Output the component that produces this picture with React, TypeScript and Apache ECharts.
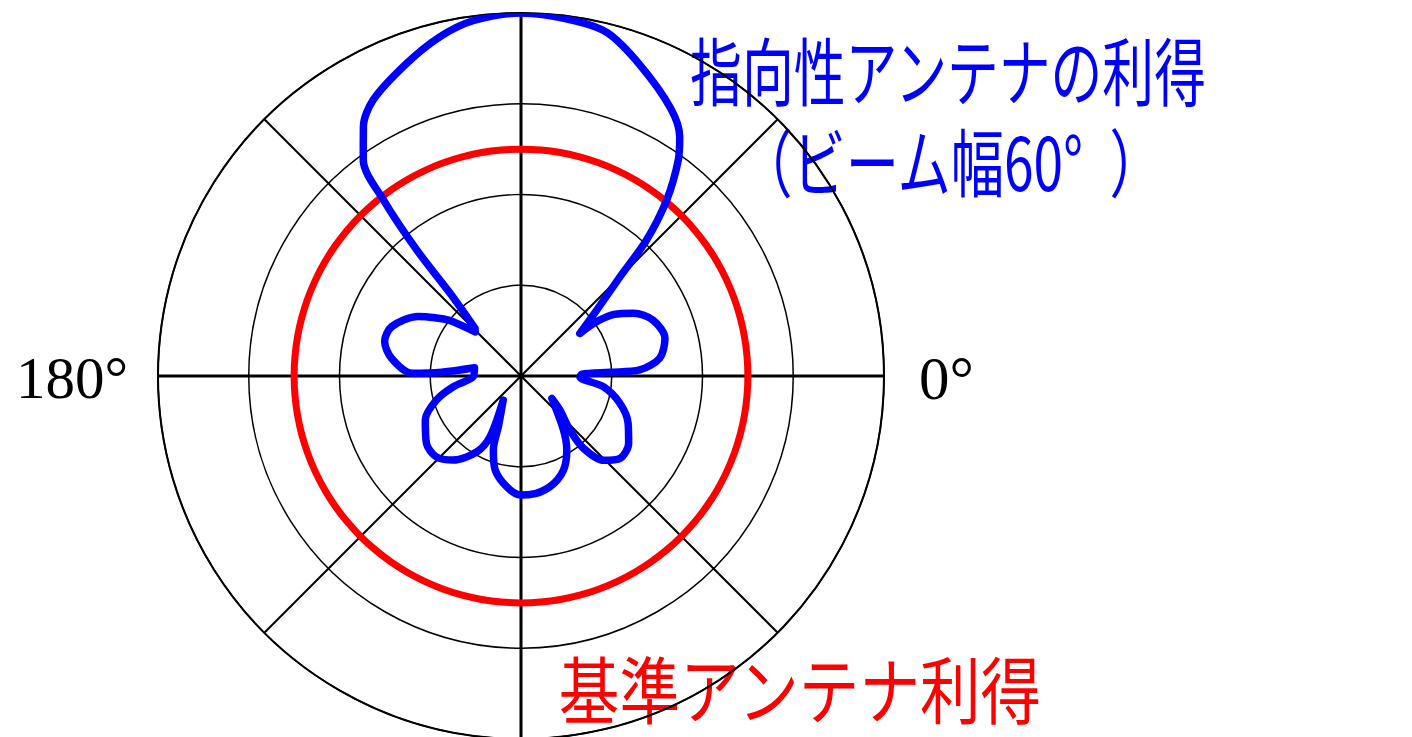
import React, { useEffect, useRef } from 'react';
import * as echarts from 'echarts';

// Gain values: [gain, angle in degrees]
const mainLobe: [number, number][] = [
  [0.73, 134], [1.2, 130.6], [1.8, 129.6], [2.46, 128], [2.95, 126.1], [3.25, 122.3],
  [3.45, 118.2], [3.66, 110.4], [3.84, 103.6], [3.95, 97.7], [4.0, 90], [3.96, 81.7],
  [3.9, 75.9], [3.67, 69.1], [3.38, 60.8], [3.16, 56.4], [2.94, 53.9], [2.52, 50.4],
  [2.04, 47.3], [1.55, 45.1], [1.11, 41.1], [0.8, 35.9],
];
const rightUpperLobe: [number, number][] = [
  [1.03, 35.6], [1.23, 33.5], [1.42, 29.2], [1.58, 22.9], [1.64, 14.7], [1.54, 7.3],
  [1.31, 2.9], [0.98, 2.4], [0.67, 1.6],
];
const rightLowerLobe: [number, number][] = [
  [0.65, 359], [0.915, 352.6], [1.13, 344.6], [1.29, 336.2], [1.4, 327.9], [1.42, 320.3],
  [1.3, 314.4], [1.05, 310.8], [0.8, 312.2], [0.57, 318.9], [0.42, 324],
];
const bottomLobe: [number, number][] = [
  [0.76, 308.1], [0.96, 301.7], [1.14, 294.2], [1.26, 284.7], [1.31, 274.3], [1.31, 269.5],
  [1.23, 262.6], [1.07, 254.5], [0.87, 249.5], [0.61, 245.9], [0.33, 233.6],
];
const leftLowerLobe: [number, number][] = [
  [0.75, 243], [0.97, 239.7], [1.19, 231.1], [1.29, 223.7], [1.28, 215.5], [1.16, 204.6],
  [0.97, 195.9], [0.755, 189], [0.53, 181.2],
];
const leftUpperLobe: [number, number][] = [
  [0.52, 170], [0.875, 177.3], [1.2, 178.6], [1.44, 172.2], [1.55, 165.8], [1.525, 159.1],
  [1.31, 150], [1.145, 145.9], [1.01, 142.4], [0.7, 136.1], [0.73, 134],
];

const referenceGain = 2.5;
const referenceAngles = [
  0, 5, 10, 15, 20, 25, 30, 35, 40, 45, 50, 55, 60, 65, 70, 75, 80, 85, 90, 95, 100, 105, 110,
  115, 120, 125, 130, 135, 140, 145, 150, 155, 160, 165, 170, 175, 180, 185, 190, 195, 200, 205,
  210, 215, 220, 225, 230, 235, 240, 245, 250, 255, 260, 265, 270, 275, 280, 285, 290, 295, 300,
  305, 310, 315, 320, 325, 330, 335, 340, 345, 350, 355, 360,
];

const angleLabels: Record<number, string> = { 0: '{r|0°}', 180: '{l|180°}' };
const axisMax = 4;

export default function App() {
  const ref = useRef<HTMLDivElement>(null);
  useEffect(() => {
    const chart = echarts.init(ref.current!, null, { renderer: 'svg' });
    const directional = [
      ...mainLobe, ...rightUpperLobe, ...rightLowerLobe, ...bottomLobe, ...leftLowerLobe, ...leftUpperLobe,
    ];
    const labelFont = {
      color: '#000', fontFamily: '"Liberation Serif", "Times New Roman", serif',
    };
    chart.setOption({
      animation: false,
      backgroundColor: '#fff',
      polar: { center: [521, 376], radius: 363 },
      angleAxis: {
        type: 'value', min: 0, max: 360, interval: 45, startAngle: 0, clockwise: false,
        axisLine: { show: true, lineStyle: { color: '#000', width: 2 } },
        axisTick: { show: false },
        axisLabel: {
          show: true, margin: 30, fontSize: 60, ...labelFont,
          formatter: (v: number) => angleLabels[v] ?? '',
          rich: {
            r: { ...labelFont, fontSize: 61, padding: [4, 0, 0, 5] },
            l: { ...labelFont, fontSize: 59, padding: [4, 0, 0, 0] },
          },
        },
        splitLine: { show: true, lineStyle: { color: '#000', width: 2 } },
      },
      radiusAxis: {
        type: 'value', min: 0, max: axisMax, interval: 1,
        axisLine: { show: false }, axisTick: { show: false }, axisLabel: { show: false },
        splitLine: { show: true, lineStyle: { color: '#000', width: 1.5 } },
      },
      series: [
        {
          type: 'line', coordinateSystem: 'polar', data: [[axisMax, 0], [axisMax, 180]],
          symbol: 'none', silent: true, lineStyle: { color: '#000', width: 3 },
        },
        {
          type: 'line', coordinateSystem: 'polar', data: [[axisMax, 90], [axisMax, 270]],
          symbol: 'none', silent: true, lineStyle: { color: '#000', width: 3 },
        },
        {
          type: 'line', coordinateSystem: 'polar',
          data: referenceAngles.map((a) => [referenceGain, a]),
          symbol: 'none', smooth: true, lineStyle: { color: '#ff0000', width: 7 },
        },
        {
          type: 'line', coordinateSystem: 'polar', data: directional,
          symbol: 'none', smooth: 0.3, lineStyle: { color: '#0000ff', width: 7.5, join: 'round', cap: 'round' },
        },
      ],
      graphic: [
        {
          type: 'text', x: 948, y: 68, scaleX: 0.7,
          style: {
            text: '指向性アンテナの利得', fill: '#0000ff', fontSize: 74,
            fontFamily: '"Noto Sans CJK JP", sans-serif', align: 'center', verticalAlign: 'middle',
          },
        },
        {
          type: 'text', x: 951, y: 159, scaleX: 0.72,
          style: {
            text: '（ビーム幅60°\u2002）', fill: '#0000ff', fontSize: 74,
            fontFamily: '"Noto Sans CJK JP", sans-serif', align: 'center', verticalAlign: 'middle',
          },
        },
        {
          type: 'text', x: 800, y: 686, scaleX: 0.83,
          style: {
            text: '基準アンテナ利得', fill: '#ff0000', fontSize: 73,
            fontFamily: '"Noto Sans CJK JP", sans-serif', align: 'center', verticalAlign: 'middle',
          },
        },
      ],
    });
    return () => chart.dispose();
  }, []);
  return (
    <div
      ref={ref}
      style={{ position: 'absolute', left: 0, top: 0, width: 1412, height: 737, background: '#fff' }}
    />
  );
}
